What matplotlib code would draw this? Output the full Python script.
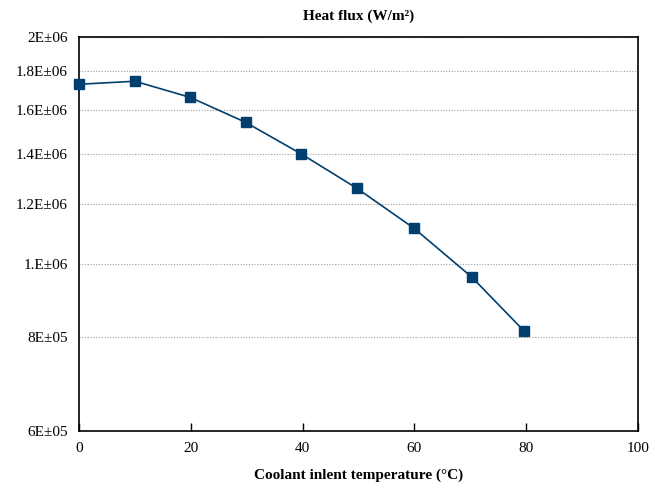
import matplotlib.pyplot as plt
from matplotlib.ticker import NullLocator

temperature = [0, 10, 19.9, 29.8, 39.7, 49.7, 60, 70.3, 79.6]
heat_flux = [1.731e6, 1.747e6, 1.663e6, 1.541e6, 1.400e6, 1.260e6, 1.114e6, 0.960e6, 0.815e6]

y_ticks = [6e5, 8e5, 1e6, 1.2e6, 1.4e6, 1.6e6, 1.8e6, 2e6]
y_labels = ['6E±05', '8E±05', '1.E±06', '1.2E±06', '1.4E±06', '1.6E±06', '1.8E±06', '2E±06']
x_ticks = [0, 20, 40, 60, 80, 100]

plt.rcParams['font.family'] = ['Liberation Serif', 'DejaVu Serif']

fig = plt.figure(figsize=(6.59, 4.86), dpi=100)
ax = fig.add_axes([0.1199, 0.1132, 0.848, 0.8107])

ax.plot(temperature, heat_flux, color='#003f6e', linewidth=1.2,
        marker='s', markersize=6.8, clip_on=False, zorder=3)

ax.set_yscale('log')
ax.set_ylim(6e5, 2e6)
ax.set_xlim(0, 100)
ax.set_yticks(y_ticks)
ax.set_yticklabels(y_labels)
ax.yaxis.set_minor_locator(NullLocator())
ax.set_xticks(x_ticks)

ax.tick_params(axis='y', length=0, pad=8, labelsize=11)
ax.tick_params(axis='x', direction='in', length=6, width=1, pad=8, labelsize=11)
ax.grid(axis='y', linestyle=(0, (1, 1.5)), color='#a0a0a0', linewidth=0.8)

for s in ax.spines.values():
    s.set_linewidth(1.2)
    s.set_color('black')

ax.set_title('Heat flux (W/m²)', fontsize=11, fontweight='bold', pad=12)
ax.set_xlabel('Coolant inlent temperature (°C)', fontsize=11, fontweight='bold', labelpad=10)

fig.savefig('out.png', dpi=100)
